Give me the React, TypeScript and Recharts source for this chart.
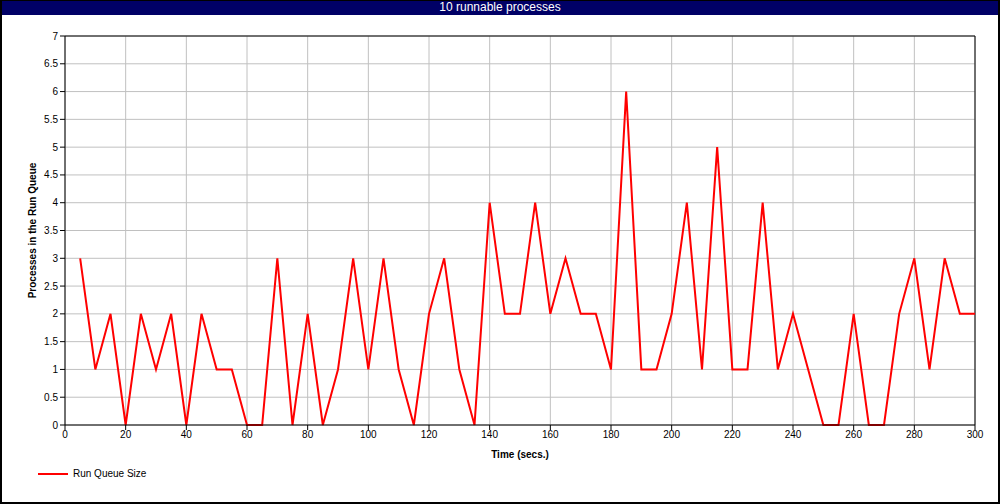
import React from 'react';
import {
  LineChart,
  Line,
  XAxis,
  YAxis,
  CartesianGrid,
  ReferenceLine,
} from 'recharts';

// sample times (secs.) and run queue size at each sample
const times = [
  5, 10, 15, 20, 25, 30, 35, 40, 45, 50, 55, 60, 65, 70, 75, 80, 85, 90, 95, 100,
  105, 110, 115, 120, 125, 130, 135, 140, 145, 150, 155, 160, 165, 170, 175, 180, 185, 190, 195, 200,
  205, 210, 215, 220, 225, 230, 235, 240, 245, 250, 255, 260, 265, 270, 275, 280, 285, 290, 295, 300,
];
const runQueue = [
  3, 1, 2, 0, 2, 1, 2, 0, 2, 1, 1, 0, 0, 3, 0, 2, 0, 1, 3, 1,
  3, 1, 0, 2, 3, 1, 0, 4, 2, 2, 4, 2, 3, 2, 2, 1, 6, 1, 1, 2,
  4, 1, 5, 1, 1, 4, 1, 2, 1, 0, 0, 2, 0, 0, 2, 3, 1, 3, 2, 2,
];
const xTicks = [0, 20, 40, 60, 80, 100, 120, 140, 160, 180, 200, 220, 240, 260, 280, 300];
const yTicks = [0, 0.5, 1, 1.5, 2, 2.5, 3, 3.5, 4, 4.5, 5, 5.5, 6, 6.5, 7];

const title = '10 runnable processes';
const seriesName = 'Run Queue Size';

const data = times.map((t, i) => ({ time: t, size: runQueue[i] }));

const font = '"Liberation Sans", Arial, sans-serif';
const tickStyle = { fontSize: 10, fill: '#000', fontFamily: font };

const App: React.FC = () => {
  return (
    <div
      style={{
        position: 'absolute',
        left: 0,
        top: 0,
        width: 1000,
        height: 504,
        background: '#fff',
        fontFamily: font,
      }}
    >
      <div
        style={{
          position: 'absolute',
          left: 0,
          top: 0,
          width: 1000,
          height: 15,
          background: '#000066',
          color: '#fff',
          fontSize: 12,
          lineHeight: '15px',
          textAlign: 'center',
        }}
      >
        {title}
      </div>
      <div style={{ position: 'absolute', left: 0, top: 0 }}>
        <LineChart
          width={1000}
          height={504}
          data={data}
          margin={{ top: 36, right: 25, left: 15, bottom: 46 }}
        >
          <CartesianGrid stroke="#c0c0c0" strokeWidth={1} />
          <XAxis
            dataKey="time"
            type="number"
            domain={[0, 300]}
            ticks={xTicks}
            interval={0}
            height={33}
            tickSize={5}
            tickMargin={1}
            stroke="#000"
            tick={tickStyle}
            label={{
              value: 'Time (secs.)',
              position: 'insideBottom',
              offset: 0,
              style: { fontSize: 10, fontWeight: 'bold', fill: '#000', fontFamily: font },
            }}
          />
          <YAxis
            type="number"
            domain={[0, 7]}
            ticks={yTicks}
            interval={0}
            width={50}
            tickSize={5}
            tickMargin={2}
            stroke="#000"
            tick={tickStyle}
            label={{
              value: 'Processes in the Run Queue',
              angle: -90,
              position: 'insideLeft',
              offset: 17,
              style: {
                textAnchor: 'middle',
                fontSize: 10,
                fontWeight: 'bold',
                fill: '#000',
                fontFamily: font,
              },
            }}
          />
          <ReferenceLine y={7} stroke="#000" strokeWidth={1} />
          <ReferenceLine x={300} stroke="#000" strokeWidth={1} />
          <Line
            type="linear"
            dataKey="size"
            name={seriesName}
            stroke="#ff0000"
            strokeWidth={2}
            dot={false}
            isAnimationActive={false}
          />
        </LineChart>
      </div>
      <div
        style={{
          position: 'absolute',
          left: 38,
          top: 468,
          display: 'flex',
          alignItems: 'center',
          fontSize: 10,
          color: '#000',
        }}
      >
        <span style={{ display: 'inline-block', width: 30, height: 2, background: '#ff0000', marginRight: 5 }} />
        <span>{seriesName}</span>
      </div>
      <div
        style={{
          position: 'absolute',
          left: 0,
          top: 0,
          width: 1000,
          height: 504,
          boxSizing: 'border-box',
          border: '2px solid #000',
          borderTopWidth: 1,
          pointerEvents: 'none',
        }}
      />
    </div>
  );
};

export default App;
